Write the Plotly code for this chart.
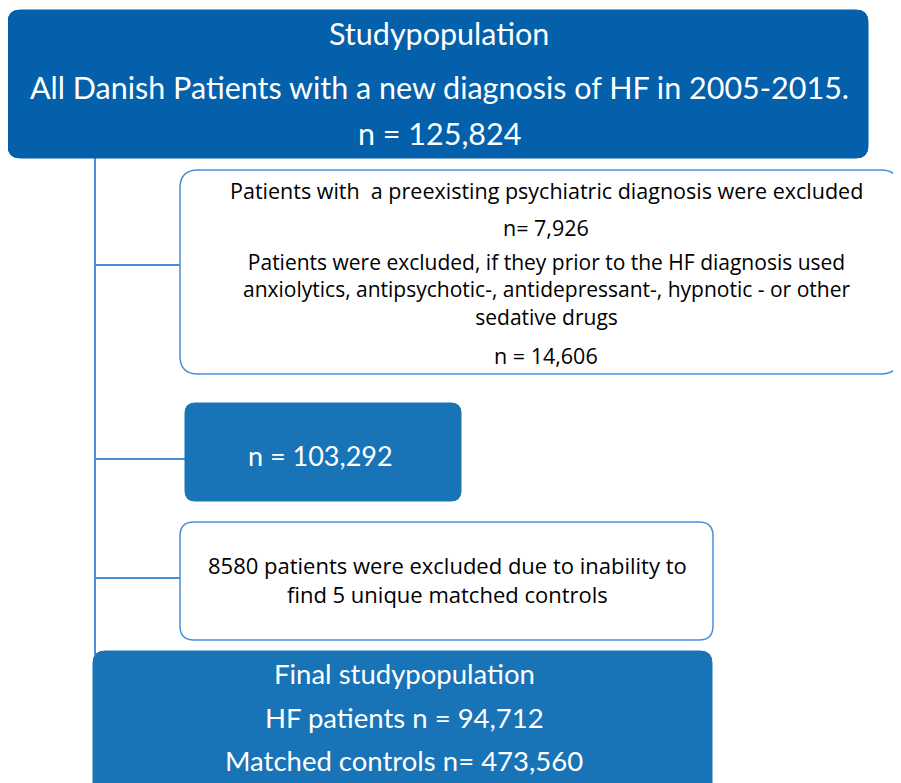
import plotly.graph_objects as go

# ---- data (flowchart content) ----
top_lines = ["Studypopulation",
             "All Danish Patients with a new diagnosis of HF in 2005-2015.",
             "n = 125,824"]
excl_lines = ["Patients with  a preexisting psychiatric diagnosis were excluded",
              "n= 7,926",
              "Patients were excluded, if they prior to the HF diagnosis used",
              "anxiolytics, antipsychotic-, antidepressant-, hypnotic - or other",
              "sedative drugs",
              "n = 14,606"]
remain_lines = ["n = 103,292"]
match_lines = ["8580 patients were excluded due to inability to",
               "find 5 unique matched controls"]
final_lines = ["Final studypopulation",
               "HF patients n = 94,712",
               "Matched controls n= 473,560"]

W, H = 901, 783
OFF = 8  # page body margin
DARK = "rgb(4,96,170)"
MID = "rgb(24,116,182)"
EDGE = "rgb(72,144,214)"
TITLE_FONT = "Lato"
BODY_FONT = "Open Sans"


def rrect(x0, y0, x1, y1, r):
    return (f"M{x0+r},{y0} L{x1-r},{y0} Q{x1},{y0} {x1},{y0+r} "
            f"L{x1},{y1-r} Q{x1},{y1} {x1-r},{y1} L{x0+r},{y1} "
            f"Q{x0},{y1} {x0},{y1-r} L{x0},{y0+r} Q{x0},{y0} {x0+r},{y0} Z")


shapes = []
shapes.append(dict(type="line", x0=95, x1=95, y0=150, y1=655,
                   line=dict(color=EDGE, width=2), layer="below"))
for yy, xe in [(265, 182), (459, 187), (578, 182)]:
    shapes.append(dict(type="line", x0=95, x1=xe, y0=yy, y1=yy,
                       line=dict(color=EDGE, width=2), layer="below"))

boxes = [
    (8, 10, 868, 158, 12, DARK, DARK, 1),
    (180, 170, 899, 374, 18, "white", EDGE, 1.5),
    (185, 403, 461, 501, 10, MID, MID, 1),
    (180, 522, 713, 640, 14, "white", EDGE, 1.5),
    (93, 651, 712, 795, 12, MID, MID, 1),
]
for x0, y0, x1, y1, r, fc, lc, lw in boxes:
    shapes.append(dict(type="path", path=rrect(x0, y0, x1, y1, r),
                       fillcolor=fc, line=dict(color=lc, width=lw), layer="below"))

annotations = []


def add_text(text, cx, y, size, color, family):
    annotations.append(dict(x=cx, y=y, text=text, showarrow=False,
                            xanchor="center", yanchor="middle", align="center",
                            font=dict(family=family, size=size, color=color)))


# top box
for t, y in zip(top_lines, [33, 87, 133]):
    add_text(t, 439, y, 30.5, "white", TITLE_FONT)
# exclusion box
add_text(excl_lines[0], 546, 190, 21.5, "black", BODY_FONT)
add_text(excl_lines[1], 546, 227, 21.5, "black", BODY_FONT)
add_text("<br>".join(excl_lines[2:5]), 546, 289, 21, "black", BODY_FONT)
add_text(excl_lines[5], 546, 355, 21.5, "black", BODY_FONT)
# remaining
add_text(remain_lines[0], 320, 455, 27, "white", TITLE_FONT)
# matching exclusion
add_text("<br>".join(match_lines), 447, 579, 22, "black", BODY_FONT)
# final
for t, y in zip(final_lines, [673, 717, 760]):
    add_text(t, 404, y, 27.5, "white", TITLE_FONT)

fig = go.Figure()
fig.update_layout(
    width=W, height=H,
    margin=dict(l=0, r=0, t=0, b=0),
    paper_bgcolor="white", plot_bgcolor="white",
    xaxis=dict(range=[OFF, W + OFF], visible=False, fixedrange=True),
    yaxis=dict(range=[H + OFF, OFF], visible=False, fixedrange=True),
    shapes=shapes, annotations=annotations, showlegend=False,
)
fig.write_html("out.html")
